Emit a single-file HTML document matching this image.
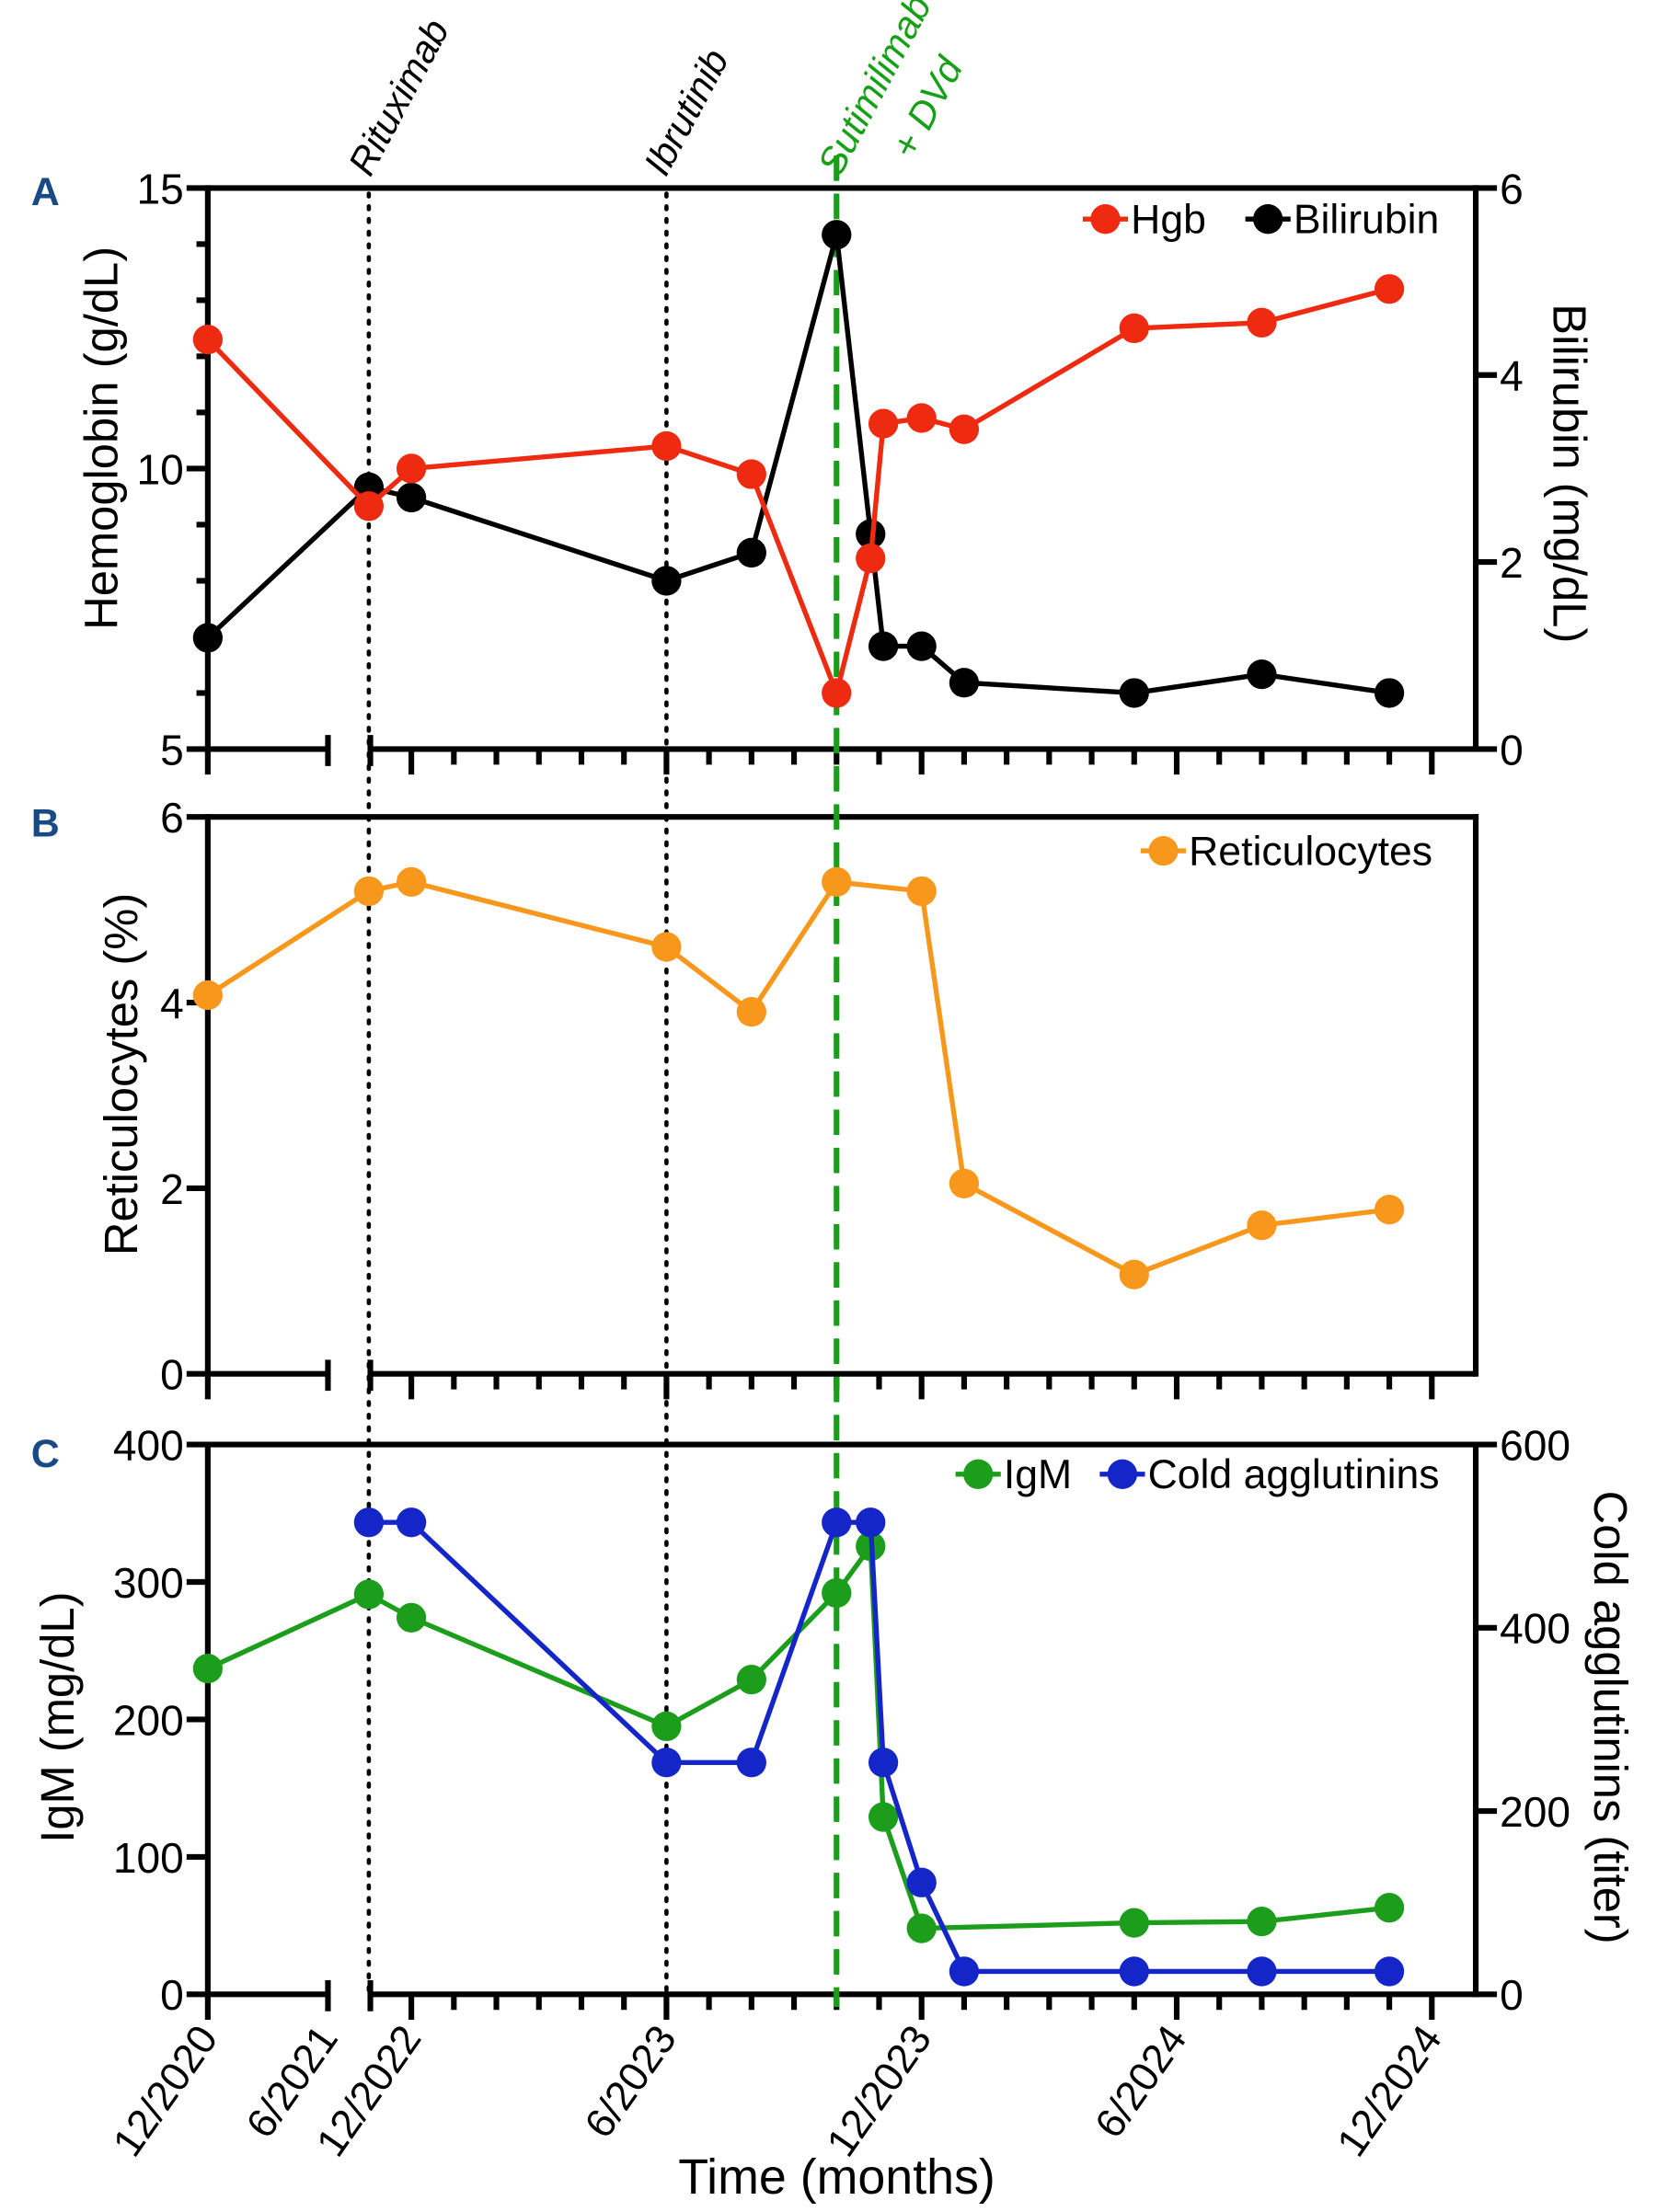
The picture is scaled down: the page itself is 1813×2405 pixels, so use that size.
<!DOCTYPE html>
<html><head><meta charset="utf-8"><style>
html,body{margin:0;padding:0;background:#fff;}
svg{display:block;font-family:"Liberation Sans",Arial,sans-serif;}
</style></head><body>
<svg id="chart" width="1813" height="2405" viewBox="0 0 1180 1565" preserveAspectRatio="none" xmlns="http://www.w3.org/2000/svg">
<g id="static"></g>
</svg>
<script>
// Months relative to 12/2022 (12/2020 = -24, 6/2021 = -18)
const monthsA = [-24, -1, 0, 6, 8, 10, 10.8, 11.1, 12, 13, 17, 20, 23];
const hgb = [12.3, 9.33, 10.0, 10.4, 9.9, 6.0, 8.4, 10.8, 10.9, 10.7, 12.5, 12.6, 13.2];
const bilirubin = [1.19, 2.8, 2.69, 1.8, 2.1, 5.5, 2.3, 1.1, 1.1, 0.71, 0.6, 0.8, 0.6];
const monthsB = [-24, -1, 0, 6, 8, 10, 12, 13, 17, 20, 23];
const retic = [4.08, 5.2, 5.3, 4.6, 3.9, 5.3, 5.2, 2.05, 1.07, 1.6, 1.77];
const monthsIgM = [-24, -1, 0, 6, 8, 10, 10.8, 11.1, 12, 17, 20, 23];
const igm = [237, 291, 274, 195, 229, 292, 326, 129, 48, 52, 53, 63];
const monthsCA = [-1, 0, 6, 8, 10, 10.8, 11.1, 12, 13, 17, 20, 23];
const coldAgg = [515, 515, 253, 253, 515, 515, 253, 122, 25, 25, 25, 25];
const xTickMonths = [-24, -18, 0, 6, 12, 18, 24];
const xTickLabels = ["12/2020", "6/2021", "12/2022", "6/2023", "12/2023", "6/2024", "12/2024"];
const treatMonths = [-1, 6, 10];

const NS = "http://www.w3.org/2000/svg";
const root = document.getElementById('static');
function el(tag, attrs, parent, text) {
  const e = document.createElementNS(NS, tag);
  for (const k in attrs) e.setAttribute(k, attrs[k]);
  if (text !== undefined) e.textContent = text;
  (parent || root).appendChild(e);
  return e;
}
function xS(m) { return m < -2 ? 147 + (m + 24) * (85 / 6) : 291 + m * 30.08; }
function lin(d0, d1, r0, r1) { return v => r0 + (v - d0) * (r1 - r0) / (d1 - d0); }

const L = 147, R = 1044;
const panels = [
  {top: 133, bot: 530},
  {top: 578, bot: 972},
  {top: 1022, bot: 1411}
];

panels.forEach((p, i) => {
  const g = el('g', {});
  
  
  el('line', {x1: L, y1: p.top, x2: R + 2, y2: p.top, stroke: '#000', 'stroke-width': 4}, g);
  el('line', {x1: L, y1: p.top - 2, x2: L, y2: p.bot + 2, stroke: '#000', 'stroke-width': 4}, g);
  el('line', {x1: R, y1: p.top - 2, x2: R, y2: p.bot + 2, stroke: '#000', 'stroke-width': 4}, g);
  el('line', {x1: L, y1: p.bot, x2: 232, y2: p.bot, stroke: '#000', 'stroke-width': 4}, g);
  el('line', {x1: 262, y1: p.bot, x2: R, y2: p.bot, stroke: '#000', 'stroke-width': 4}, g);
  el('line', {x1: 232, y1: p.bot - 10, x2: 232, y2: p.bot + 12, stroke: '#000', 'stroke-width': 4}, g);
  el('line', {x1: 262, y1: p.bot - 10, x2: 262, y2: p.bot + 12, stroke: '#000', 'stroke-width': 4}, g);
  el('line', {x1: L, y1: p.bot, x2: L, y2: p.bot + 18, stroke: '#000', 'stroke-width': 4}, g);
  for (let m = 0; m <= 24; m++) {
    const major = m % 6 === 0;
    el('line', {x1: xS(m), y1: p.bot, x2: xS(m), y2: p.bot + (major ? 18 : 11), stroke: '#000', 'stroke-width': 4}, g);
  }
});

function yAxis(p, min, max, step, minorStep, side) {
  const y = lin(min, max, p.bot, p.top);
  const x0 = side === 'left' ? L : R;
  const dir = side === 'left' ? -1 : 1;
  for (let v = min; v <= max + 1e-9; v += minorStep) {
    const major = Math.abs((v - min) / step - Math.round((v - min) / step)) < 1e-6;
    el('line', {x1: x0, y1: y(v), x2: x0 + dir * (major ? 15 : 8), y2: y(v), stroke: '#000', 'stroke-width': 4});
    if (major) {
      const t = el('text', {x: x0 + dir * 17, y: y(v) + 11, 'font-size': 30, 'text-anchor': side === 'left' ? 'end' : 'start', fill: '#000'}, undefined, String(Math.round(v)));
      
      
    }
  }
  return y;
}
const yHgb = yAxis(panels[0], 5, 15, 5, 1, 'left');
const yBil = yAxis(panels[0], 0, 6, 2, 2, 'right');
const yRet = yAxis(panels[1], 0, 6, 2, 2, 'left');
const yIgM = yAxis(panels[2], 0, 400, 100, 100, 'left');
const yCA = yAxis(panels[2], 0, 600, 200, 200, 'right');

xTickMonths.forEach((m, i) => {
  const x = xS(m) + 8, y = 1442;
  const t = el('text', {x: x, y: y, 'font-size': 29, 'text-anchor': 'end', transform: `rotate(-55 ${x} ${y})`, fill: '#000'}, undefined, xTickLabels[i]);
  
  
});

treatMonths.forEach((m, i) => {
  const x = xS(m);
  const green = i === 2;
  const ln = el('line', green ? {x1: x, y1: 110, x2: x, y2: 1420, stroke: '#16a016', 'stroke-width': 4, 'stroke-dasharray': '18 9'} : {x1: x, y1: 137, x2: x, y2: 1408, stroke: '#000', 'stroke-width': 3, 'stroke-dasharray': '2 7', 'stroke-linecap': 'round'});
  
  
});

function series(xs, ys, yScale, color, name) {
  const g = el('g', {});
  
  
  const pts = xs.map((m, i) => xS(m).toFixed(1) + ',' + yScale(ys[i]).toFixed(1)).join(' ');
  el('polyline', {points: pts, fill: 'none', stroke: color, 'stroke-width': 3.5, 'stroke-linejoin': 'round'}, g);
  xs.forEach((m, i) => {
    const c = el('circle', {cx: xS(m), cy: yScale(ys[i]), r: 10.5, fill: color}, g);
    
    
  });
}
series(monthsA, bilirubin, yBil, '#000000', 'bilirubin');
series(monthsA, hgb, yHgb, '#ee2a10', 'hgb');
series(monthsB, retic, yRet, '#f7971c', 'reticulocytes');
series(monthsIgM, igm, yIgM, '#1c9e1c', 'igm');
series(monthsCA, coldAgg, yCA, '#1426c8', 'cold-agglutinins');

function legend(x, y, color, label, name) {
  const g = el('g', {});
  
  
  el('line', {x1: x - 16, y1: y, x2: x + 16, y2: y, stroke: color, 'stroke-width': 3.5}, g);
  el('circle', {cx: x, cy: y, r: 10.5, fill: color}, g);
  el('text', {x: x + 18, y: y + 10, 'font-size': 29, fill: '#000'}, g, label);
}
legend(782, 155, '#ee2a10', 'Hgb', 'hgb');
legend(897, 155, '#000000', 'Bilirubin', 'bilirubin');
legend(823, 602, '#f7971c', 'Reticulocytes', 'reticulocytes');
legend(692, 1043, '#1c9e1c', 'IgM', 'igm');
legend(794, 1043, '#1426c8', 'Cold agglutinins', 'cold-agglutinins');
</script>
<svg style="position:absolute;left:0;top:0" width="1813" height="2405" viewBox="0 0 1180 1565" preserveAspectRatio="none" xmlns="http://www.w3.org/2000/svg" font-family="Liberation Sans, Arial, sans-serif">
<text x="22" y="145" font-size="28" font-weight="bold" fill="#1a4a86">A</text>
<text x="22" y="592" font-size="28" font-weight="bold" fill="#1a4a86">B</text>
<text x="22" y="1038" font-size="28" font-weight="bold" fill="#1a4a86">C</text>
<text transform="translate(83 310) rotate(-90)" text-anchor="middle" font-size="33">Hemoglobin (g/dL)</text>
<text transform="translate(1099 335) rotate(90)" text-anchor="middle" font-size="33">Bilirubin (mg/dL)</text>
<text transform="translate(97 760) rotate(-90)" text-anchor="middle" font-size="33">Reticulocytes (%)</text>
<text transform="translate(52 1215) rotate(-90)" text-anchor="middle" font-size="33">IgM (mg/dL)</text>
<text transform="translate(1128 1215) rotate(90)" text-anchor="middle" font-size="33">Cold agglutinins (titer)</text>
<text x="592" y="1552" text-anchor="middle" font-size="35">Time (months)</text>
<text transform="translate(262 126) rotate(-62)" font-size="27" font-style="italic">Rituximab</text>
<text transform="translate(471 126) rotate(-62)" font-size="27" font-style="italic">Ibrutinib</text>
<text transform="translate(594 126) rotate(-62)" font-size="27" font-style="italic" fill="#16a016">Sutimilimab</text>
<text transform="translate(646 114) rotate(-62)" font-size="27" font-style="italic" fill="#16a016">+ DVd</text>
</svg>
</body></html>
